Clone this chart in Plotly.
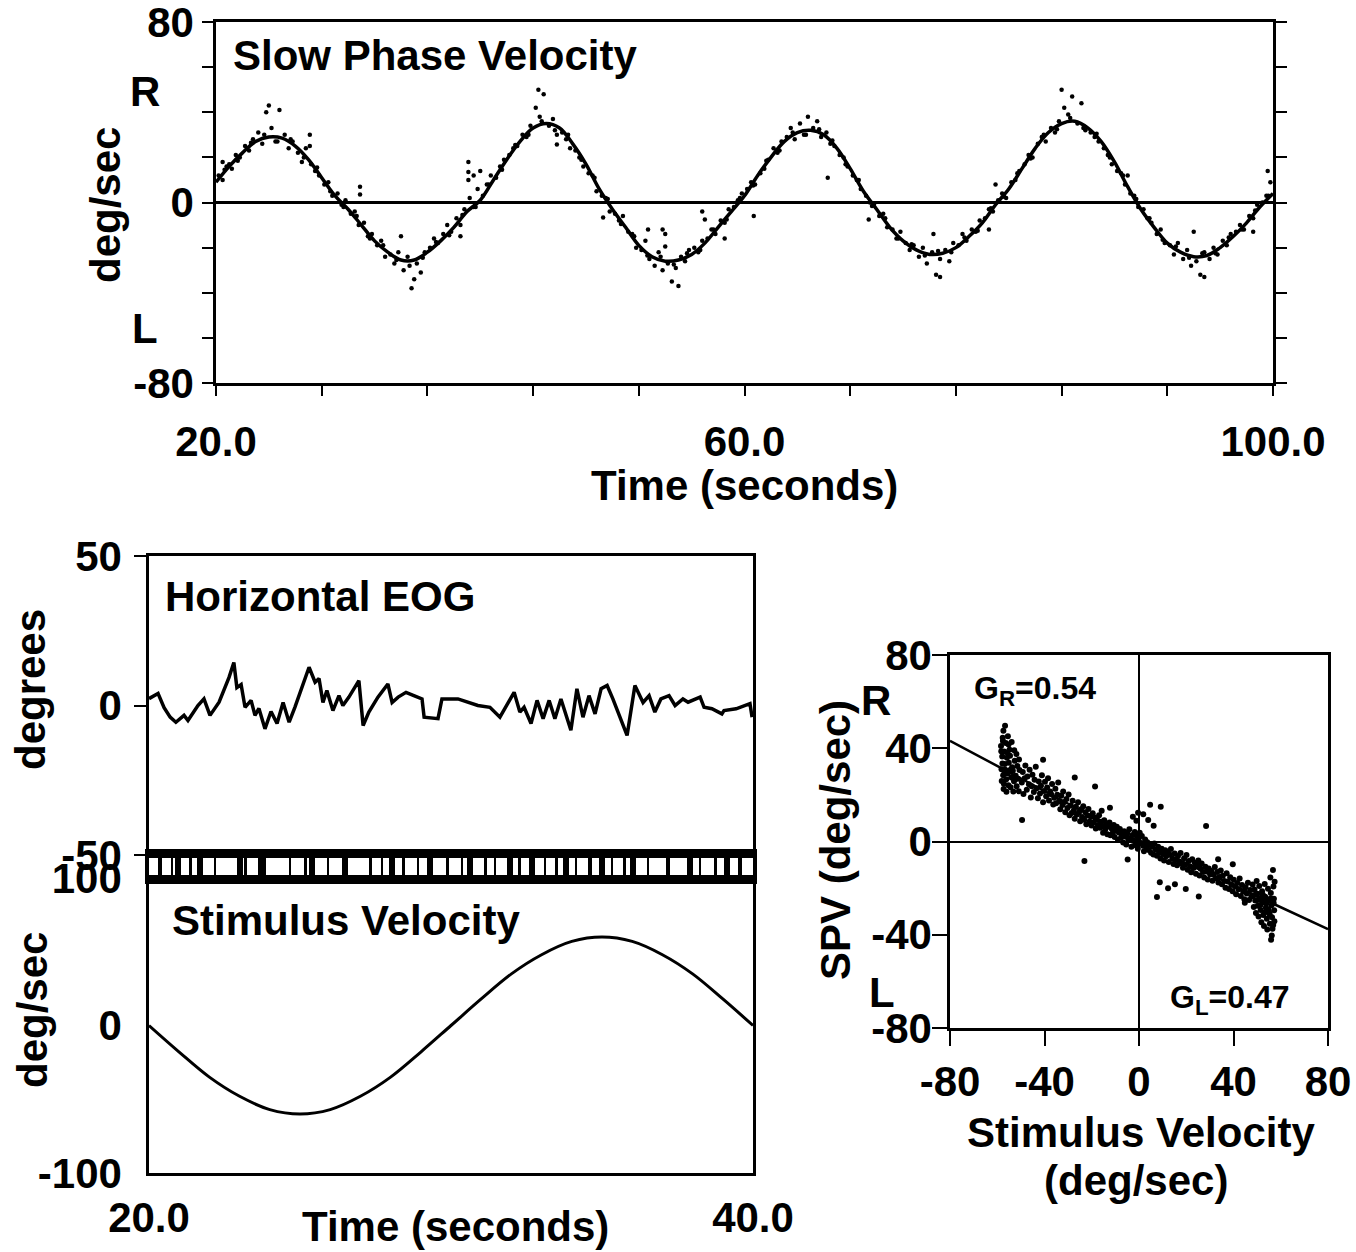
import plotly.graph_objects as go

# ---------------- data ----------------
spv_fit_t = list(range(20, 101))
spv_fit_v = [9, 16, 22, 27, 29, 28.5, 25, 19, 11, 3,
             -3, -10, -17, -22, -25.5, -25.5, -22, -17, -11, -4,
             1, 10, 19, 27, 33, 35, 33, 26, 17, 6,
             -3, -11, -19, -24, -26, -25.5, -23, -18, -11, -4,
             3, 12, 20, 27, 31, 32, 30, 24, 15, 5,
             -3, -11, -17, -21, -23, -22.5, -20, -15, -9, -1,
             6, 15, 24, 31, 35, 36, 33, 27, 18, 7,
             -3, -11, -18, -22, -24, -23.5, -20, -15, -9, -2,
             4]

spv_dots = [
    (20.2, 12), (20.5, 10), (20.8, 16), (21.2, 15), (21.5, 21), (21.8, 20),
    (22.2, 25), (22.5, 23), (22.8, 28), (23.2, 31), (23.5, 26), (23.8, 40),
    (24.2, 33), (24.5, 27), (24.8, 41), (25.2, 30), (25.5, 24), (25.8, 27),
    (26.2, 22), (26.5, 18), (26.8, 24), (27.2, 17), (27.5, 14), (27.8, 12),
    (28.2, 8), (28.5, 9), (28.8, 3), (29.2, 4), (29.5, -1), (29.8, 1),
    (30.2, -5), (30.5, -4), (30.8, -10), (31.2, -9), (31.5, -15), (31.8, -14),
    (32.2, -19), (32.5, -17), (32.8, -24), (33.2, -23), (33.5, -27), (33.8, -22),
    (34.2, -30), (34.5, -24), (34.8, -38), (35.2, -27), (35.5, -31), (35.8, -22),
    (36.2, -20), (36.5, -16), (36.8, -18), (37.2, -14), (37.5, -10), (37.8, -13),
    (38.2, -7), (38.5, -10), (38.8, -3), (39.2, 2), (39.5, -2), (39.8, 6),
    (40.2, 3), (40.5, 8), (40.8, 12), (41.2, 11), (41.5, 16), (41.8, 19),
    (42.2, 21), (42.5, 24), (42.8, 25), (43.2, 30), (43.5, 29), (43.8, 34),
    (44.2, 42), (44.5, 38), (44.8, 48), (45.2, 34), (45.5, 37), (45.8, 30),
    (46.2, 31), (46.5, 28), (46.8, 24), (47.2, 23), (47.5, 20), (47.8, 16),
    (48.2, 13), (48.5, 12), (48.8, 5), (49.2, 3), (49.5, 2), (49.8, -4),
    (50.2, -5), (50.5, -8), (50.8, -6), (51.2, -13), (51.5, -14), (51.8, -20),
    (52.2, -21), (52.5, -17), (52.8, -25), (53.2, -28), (53.5, -22), (53.8, -30),
    (54.2, -27), (54.5, -35), (54.8, -29), (55.2, -24), (55.5, -26), (55.8, -21),
    (56.2, -20), (56.5, -22), (56.8, -17), (57.2, -16), (57.5, -12), (57.8, -14),
    (58.2, -8), (58.5, -9), (58.8, -3), (59.2, -2), (59.5, 1), (59.8, 4),
    (60.2, 6), (60.5, 9), (60.8, 8), (61.2, 13), (61.5, 15), (61.8, 19),
    (62.2, 24), (62.5, 22), (62.8, 27), (63.2, 29), (63.5, 33), (63.8, 28),
    (64.2, 35), (64.5, 30), (64.8, 38), (65.2, 33), (65.5, 36), (65.8, 29),
    (66.2, 31), (66.5, 26), (66.8, 25), (67.2, 21), (67.5, 20), (67.8, 16),
    (68.2, 12), (68.5, 10), (68.8, 6), (69.2, 3), (69.5, 0), (69.8, -1),
    (70.2, -6), (70.5, -5), (70.8, -11), (71.2, -12), (71.5, -16), (71.8, -13),
    (72.2, -18), (72.5, -21), (72.8, -19), (73.2, -24), (73.5, -20), (73.8, -27),
    (74.2, -22), (74.5, -32), (74.8, -25), (75.2, -21), (75.5, -26), (75.8, -18),
    (76.2, -19), (76.5, -14), (76.8, -17), (77.2, -12), (77.5, -13), (77.8, -8),
    (78.2, -7), (78.5, -3), (78.8, -4), (79.2, 1), (79.5, 4), (79.8, 2),
    (80.2, 9), (80.5, 10), (80.8, 14), (81.2, 17), (81.5, 21), (81.8, 20),
    (82.2, 26), (82.5, 29), (82.8, 27), (83.2, 33), (83.5, 31), (83.8, 36),
    (84.2, 42), (84.5, 39), (84.8, 47), (85.2, 35), (85.5, 44), (85.8, 32),
    (86.2, 31), (86.5, 29), (86.8, 27), (87.2, 24), (87.5, 21), (87.8, 17),
    (88.2, 14), (88.5, 13), (88.8, 8), (89.2, 4), (89.5, 3), (89.8, -2),
    (90.2, -3), (90.5, -7), (90.8, -9), (91.2, -14), (91.5, -12), (91.8, -18),
    (92.2, -19), (92.5, -23), (92.8, -18), (93.2, -25), (93.5, -21), (93.8, -28),
    (94.2, -26), (94.5, -32), (94.8, -22), (95.2, -25), (95.5, -20), (95.8, -23),
    (96.2, -17), (96.5, -19), (96.8, -14), (97.2, -13), (97.5, -10), (97.8, -12),
    (98.2, -6), (98.5, -7), (98.8, -1), (99.2, 0), (99.5, 3), (99.8, 9),
    # scattered outliers
    (20.5, 18), (21.0, 17), (27.1, 30), (27.1, 25), (30.9, 7), (30.9, 3.5),
    (39.1, 18), (39.1, 13.5), (39.1, 10), (39.5, 12), (40.0, 14), (45.8, 25.7),
    (49.3, -6.6), (52.7, -12), (53.8, -12), (54.0, -19.5), (55.0, -37),
    (56.8, -4), (57.0, -7.5), (60.7, -6), (66.3, 11), (69.4, -7.5),
    (34.0, -15), (54.0, -14), (74.3, -14), (94.0, -13), (38.5, -15),
    (58.5, -16), (78.5, -12), (98.5, -13), (99.6, 14), (84.0, 50), (44.4, 50),
    (24.0, 43), (35.0, -34), (74.8, -33), (94.8, -33), (89.0, 12), (79.0, 8),
]

spv_dots_near = [
    (20.65, 14.5), (21.65, 18.5), (22.65, 26.5), (23.65, 30), (24.65, 27),
    (25.65, 28), (26.65, 20), (27.65, 15.5), (28.65, 5), (29.65, -2),
    (30.65, -6), (31.65, -16), (32.65, -19), (33.65, -25.5), (34.65, -28),
    (35.65, -24.5), (36.65, -17.5), (37.65, -14.5), (38.65, -5.5), (39.65, -2),
    (40.65, 8), (41.65, 14.5), (42.65, 25.5), (43.65, 30), (44.65, 36),
    (45.65, 32), (46.65, 30), (47.65, 19), (48.65, 11), (49.65, 1.5),
    (50.65, -9.5), (51.65, -15), (52.65, -23.5), (53.65, -24), (54.65, -27.5),
    (55.65, -22.5), (56.65, -21), (57.65, -12), (58.65, -7.5), (59.65, 2),
    (60.65, 7.5), (61.65, 18.5), (62.65, 23), (63.65, 31), (64.65, 30),
    (65.65, 32.5), (66.65, 27.5), (67.65, 17), (68.65, 10), (69.65, -1.5),
    (70.65, -7), (71.65, -16), (72.65, -18.5), (73.65, -23.5), (74.65, -21.5),
    (75.65, -22), (76.65, -15.5), (77.65, -12.5), (78.65, -2.5), (79.65, 2.5),
    (80.65, 13), (81.65, 19.5), (82.65, 30), (83.65, 32.5), (84.65, 37.5),
    (85.65, 33), (86.65, 30.5), (87.65, 20), (88.65, 12), (89.65, 1.5),
    (90.65, -7), (91.65, -16.5), (92.65, -19.5), (93.65, -24.5), (94.65, -22.5),
    (95.65, -22.5), (96.65, -15.5), (97.65, -12), (98.65, -3.5), (99.65, 3),
]

eog_t = [20.0, 20.30, 20.50, 20.70, 20.89, 21.16, 21.29, 21.62, 21.82, 22.02,
         22.32, 22.65, 22.81, 22.91, 23.05, 23.18, 23.38, 23.51, 23.64, 23.84,
         24.04, 24.24, 24.44, 24.64, 24.83, 25.30, 25.50, 25.63, 25.76, 25.89,
         26.09, 26.29, 26.42, 26.62, 26.95, 27.09, 27.28, 27.58, 27.91, 28.05,
         28.25, 28.51, 28.77, 29.04, 29.11, 29.57, 29.70, 30.23, 30.89, 31.29,
         31.62, 31.75, 32.09, 32.28, 32.42, 32.65, 32.85, 33.05, 33.25, 33.44,
         33.64, 33.97, 34.17, 34.37, 34.57, 34.77, 34.97, 35.17, 35.36, 35.83,
         36.09, 36.36, 36.56, 36.75, 36.95, 37.22, 37.42, 37.68, 37.85, 38.25,
         38.38, 38.64, 38.97, 39.04, 39.44, 39.90, 39.97]
eog_v = [2.3, 4, -0.7, -3.9, -5.6, -3.3, -5, 0, 2.2, -3.3,
         1.1, 9.4, 14.4, 6, 7, -0.6, 1.7, -3.3, -1, -7.8,
         -2, -6, 1, -5.6, -0.6, 12.8, 7.8, 9, 1, 5,
         -1.7, 3.3, 0, 2.8, 8.3, -6.7, -2.2, 2.8, 7.2, 1,
         2.8, 4.4, 3.3, 2.2, -3.9, -4.4, 2.2, 2.2, 0, -0.6,
         -3.9, -1.7, 4.4, -2.2, -0.6, -6, 1.7, -4.4, 1.7, -4.4,
         2.2, -8.3, 5.6, -3.9, 3.3, -2.8, 5.6, 6.7, 2.2, -10,
         6.7, 1, 3.3, -2.2, 2.2, 3.3, 0, 2.2, 1.1, 2.8,
         -0.6, -1.1, -2.8, -1.7, -1.1, 0.6, -3.9]

stim_t = list(range(20, 41))
stim_v = [0, -18, -35, -48, -57, -60, -57, -48, -35, -18,
          0, 18, 35, 48, 57, 60, 57, 48, 35, 18, 0]

mark_t = [20.36, 20.76, 20.96, 21.36, 21.69, 22.19, 23.01, 23.21, 23.74, 24.67,
          25.17, 25.40, 25.93, 26.49, 27.32, 27.72, 28.05, 28.44, 28.91, 29.30,
          29.87, 30.36, 30.63, 31.13, 31.46, 31.95, 32.28, 32.68, 33.11, 33.48,
          33.81, 34.14, 34.60, 35.00, 35.33, 35.76, 36.03, 36.52, 37.19, 37.91,
          38.25, 38.77, 39.14, 39.57]
mark_w = [0.12, 0.08, 0.18, 0.10, 0.22, 0.08, 0.20, 0.10, 0.25, 0.08,
          0.10, 0.20, 0.08, 0.22, 0.10, 0.08, 0.18, 0.10, 0.08, 0.22,
          0.10, 0.08, 0.20, 0.10, 0.08, 0.18, 0.10, 0.22, 0.08, 0.10,
          0.20, 0.08, 0.12, 0.22, 0.08, 0.10, 0.20, 0.08, 0.12, 0.22,
          0.08, 0.10, 0.18, 0.12]

scatter_pts = [
    # dense band at the left end of the stimulus range
    (-58.2, 31), (-57.9, 36.5), (-58.4, 41), (-57.7, 44.5), (-58.1, 26), (-57.3, 22.5),
    (-57.5, 28.4), (-56.8, 33.2), (-57.1, 38.6), (-57.4, 47.5), (-56.2, 26.7), (-56.6, 30.8),
    (-55.9, 35.9), (-56.4, 42.3), (-56.7, 49.6), (-55.3, 24.1), (-55.7, 29.3), (-55.1, 33.8),
    (-54.8, 39.4), (-55.5, 45.2), (-54.4, 23.3), (-54.1, 27.6), (-53.7, 31.9), (-54.6, 36.8),
    (-53.9, 42.7), (-53.2, 21.4), (-52.9, 25.8), (-53.4, 30.3), (-52.6, 34.6), (-52.8, 39.1),
    (-51.8, 23.7), (-52.2, 28.2), (-51.5, 32.4), (-51.9, 37.5), (-50.9, 21.6), (-51.2, 26.9),
    (-50.6, 30.7), (-50.8, 35.2), (-57.8, 33.5), (-56.9, 29.9), (-55.8, 38.2), (-54.3, 30.9),
    (-53.5, 27.2), (-57.2, 24.8), (-56.1, 21.3), (-55.2, 41.6), (-58.3, 38.7), (-57.6, 43.1),
    # -50 .. -30
    (-49.6, 25.3), (-49.2, 29.8), (-48.9, 20.4), (-48.4, 27.1), (-48.1, 32.6), (-47.5, 22.2),
    (-47.2, 27.9), (-46.6, 24.6), (-46.3, 30.8), (-45.8, 18.9), (-45.4, 23.7), (-45.1, 28.6),
    (-44.5, 21.2), (-44.2, 26.5), (-43.7, 32.1), (-43.3, 22.8), (-42.8, 18.5), (-42.4, 25.7),
    (-41.9, 20.6), (-41.5, 23.9), (-41.1, 28.4), (-40.6, 16.8), (-40.2, 21.7), (-39.8, 25.6),
    (-39.3, 19.4), (-38.9, 23.2), (-38.5, 27.1), (-38.1, 17.6), (-37.6, 21.5), (-37.2, 20.3),
    (-36.8, 24.7), (-36.3, 15.9), (-35.9, 18.8), (-35.4, 22.6), (-35.1, 16.4), (-34.6, 20.1),
    (-34.2, 25.3), (-33.8, 17.3), (-33.3, 13.8), (-32.9, 19.6), (-32.4, 15.7), (-32.1, 21.4),
    (-31.6, 16.9), (-31.2, 12.6), (-30.7, 18.2), (-30.3, 14.4), (-29.8, 20.2), (-29.4, 11.3),
    # -30 .. 0
    (-28.9, 15.4), (-28.5, 12.2), (-28.1, 17.5), (-27.6, 13.3), (-27.2, 9.8), (-26.7, 14.9),
    (-26.3, 11.6), (-25.8, 16.8), (-25.4, 12.4), (-24.9, 8.7), (-24.5, 13.8), (-24.1, 10.5),
    (-23.6, 15.1), (-23.2, 9.3), (-22.7, 12.6), (-22.3, 7.4), (-21.8, 11.2), (-21.4, 13.9),
    (-20.9, 8.6), (-20.5, 10.8), (-20.1, 6.9), (-19.6, 12.1), (-19.2, 8.2), (-18.7, 10.3),
    (-18.3, 5.6), (-17.8, 9.4), (-17.4, 7.1), (-16.9, 11.3), (-16.5, 5.9), (-16.1, 8.5),
    (-15.6, 6.7), (-15.2, 3.8), (-14.7, 9.1), (-14.3, 5.2), (-13.8, 7.3), (-13.4, 3.1),
    (-12.9, 6.4), (-12.5, 8.2), (-12.1, 2.7), (-11.6, 5.6), (-11.2, 3.5), (-10.7, 7.1),
    (-10.3, 1.9), (-9.8, 4.6), (-9.4, 6.3), (-8.9, 0.8), (-8.5, 3.9), (-8.1, 5.4),
    (-7.6, 1.7), (-7.2, 3.2), (-6.7, -0.4), (-6.3, 4.4), (-5.8, 2.1), (-5.4, -1.3),
    (-4.9, 3.6), (-4.5, 0.7), (-4.1, 5.3), (-3.6, 1.4), (-3.2, -2.2), (-2.7, 2.8),
    (-2.3, 0.2), (-1.8, 4.1), (-1.4, -1.6), (-0.9, 2.3), (-0.5, -3.1), (-0.2, 0.9),
    (0.3, 3.7), (-1.1, 8.9), (-2.6, 10.6), (-0.4, 12.3), (1.8, 11.7), (3.9, 9.2),
    (6.2, 6.8), (-4.8, -7.7), (-12.3, 14.5), (-15.8, 13.2),
    # 0 .. 30
    (0.8, -0.6), (1.2, 2.4), (1.7, -1.8), (2.1, -4.2), (2.6, 0.9), (3.1, -2.7),
    (3.5, -0.3), (4.1, -3.6), (4.6, -1.2), (5.1, -4.8), (5.6, -2.3), (6.1, -5.6),
    (6.5, -0.9), (7.1, -3.4), (7.6, -6.1), (8.1, -2.2), (8.5, -4.7), (9.1, -7.3),
    (9.6, -3.1), (10.1, -5.4), (10.6, -8.2), (11.1, -3.8), (11.5, -6.3), (12.1, -4.5),
    (12.6, -8.8), (13.1, -5.7), (13.5, -3.2), (14.1, -7.4), (14.6, -9.6), (15.1, -5.1),
    (15.6, -7.9), (16.1, -10.2), (16.5, -6.2), (17.1, -8.6), (17.6, -4.9), (18.1, -9.4),
    (18.6, -11.3), (19.1, -7.2), (19.5, -9.9), (20.1, -5.8), (20.6, -12.1), (21.1, -8.4),
    (21.6, -10.7), (22.1, -13.2), (22.5, -7.6), (23.1, -11.4), (23.6, -9.1), (24.1, -13.8),
    (24.6, -10.3), (25.1, -8.2), (25.6, -14.6), (26.1, -11.7), (26.5, -9.4), (27.1, -13.1),
    (27.6, -15.4), (28.1, -10.8), (28.6, -12.9), (29.1, -16.3), (29.5, -11.6), (30.1, -14.2),
    # outliers
    (7.6, -23.8), (12.3, -20.1), (8.8, -17.5), (15.2, -18.3), (19.8, -20.4), (25.3, -23.6),
    (28.4, 6.7), (4.7, 15.8), (9.2, 14.9), (-23.1, -8.4), (-49.5, 9.2), (-40.6, 35.1),
    (-27.2, 27.4), (-18.6, 23.6), (33.5, -7.6), (39.7, -9.8), (44.8, -26.3), (55.9, -42.1),
    # 30 .. 48
    (30.6, -12.7), (31.1, -16.8), (31.6, -14.3), (32.1, -10.9), (32.6, -15.8), (33.1, -13.1),
    (33.6, -17.6), (34.1, -15.2), (34.6, -12.4), (35.1, -18.3), (35.5, -14.7), (36.1, -16.9),
    (36.6, -19.8), (37.1, -13.6), (37.6, -17.2), (38.1, -20.4), (38.6, -15.3), (39.1, -18.6),
    (39.6, -21.3), (40.1, -16.4), (40.6, -19.2), (41.1, -22.6), (41.6, -17.8), (42.1, -20.5),
    (42.6, -15.9), (43.1, -23.4), (43.6, -18.7), (44.1, -21.4), (44.6, -24.8), (45.1, -19.6),
    (45.6, -22.3), (46.1, -17.7), (46.6, -25.1), (47.1, -20.8), (47.6, -23.6),
    # dense band at the right end
    (48.1, -18.4), (48.3, -23.2), (48.6, -28.1), (48.9, -20.6), (49.2, -25.3), (49.5, -30.7),
    (49.8, -16.9), (50.1, -22.4), (50.3, -27.6), (50.6, -32.2), (50.9, -19.1), (51.2, -24.3),
    (51.5, -29.4), (51.8, -34.6), (52.1, -21.3), (52.3, -26.2), (52.6, -31.5), (52.9, -36.3),
    (53.2, -18.2), (53.4, -23.7), (53.7, -28.4), (54.1, -33.1), (54.3, -37.8), (54.6, -20.3),
    (54.9, -25.2), (55.1, -30.4), (55.4, -35.3), (55.6, -15.4), (55.8, -22.1), (56.1, -27.3),
    (56.3, -32.5), (56.5, -37.4), (56.7, -12.2), (56.9, -19.3), (57.1, -24.6), (57.2, -29.5),
    (57.3, -34.2), (56.2, -40.3), (57.4, -17.3), (57.0, -26.4), (55.3, -31.2), (53.9, -26.6),
    (52.4, -22.8), (51.4, -27.2), (50.2, -25.1), (49.4, -22.7), (54.7, -29.1), (56.8, -35.8),
    (53.1, -30.6), (55.7, -24.4),
]

fit_x = [-80, 0, 80]
fit_y = [43.2, 0, -37.6]

# ---------------- figure ----------------
W, H = 1356, 1252
F = "Liberation Sans"
FS = 42


def px(x):
    return x / W


def py(y):
    return 1 - y / H


all_dots = spv_dots + spv_dots_near

fig = go.Figure()

fig.add_trace(go.Scatter(x=[d[0] for d in all_dots], y=[d[1] for d in all_dots],
                         mode="markers", marker=dict(size=4.5, color="black"),
                         xaxis="x", yaxis="y", showlegend=False))
fig.add_trace(go.Scatter(x=spv_fit_t, y=spv_fit_v, mode="lines",
                         line=dict(color="black", width=3.5, shape="spline"),
                         xaxis="x", yaxis="y", showlegend=False))

fig.add_trace(go.Scatter(x=eog_t, y=eog_v, mode="lines",
                         line=dict(color="black", width=3.5),
                         xaxis="x2", yaxis="y2", showlegend=False))

fig.add_trace(go.Bar(x=mark_t, y=[1] * len(mark_t), width=mark_w, base=0,
                     marker=dict(color="black", line=dict(width=0)),
                     xaxis="x3", yaxis="y3", showlegend=False))

fig.add_trace(go.Scatter(x=stim_t, y=stim_v, mode="lines",
                         line=dict(color="black", width=3, shape="spline"),
                         xaxis="x4", yaxis="y4", showlegend=False))

fig.add_trace(go.Scatter(x=[p[0] for p in scatter_pts], y=[p[1] for p in scatter_pts],
                         mode="markers", marker=dict(size=6, color="black"),
                         xaxis="x5", yaxis="y5", showlegend=False))
fig.add_trace(go.Scatter(x=fit_x, y=fit_y, mode="lines",
                         line=dict(color="black", width=2.5),
                         xaxis="x5", yaxis="y5", showlegend=False))

tickfont = dict(family=F, size=FS, color="black", weight="bold")
base_axis = dict(showgrid=False, linecolor="black", linewidth=2.5, tickcolor="black",
                 tickwidth=2, tickfont=tickfont, fixedrange=True, automargin=False,
                 ticklabeloverflow="allow")

left_dom = [px(149), px(753)]

fig.update_layout(
    template="none",
    width=W, height=H, margin=dict(l=0, r=0, t=0, b=0, pad=0),
    paper_bgcolor="white", plot_bgcolor="white",
    font=dict(family=F, color="black", weight="bold"),
    bargap=0, showlegend=False,
    xaxis=dict(base_axis, domain=[px(216), px(1273)], range=[20, 100], anchor="y",
               showline=True, mirror=True, ticks="outside", ticklen=10,
               tickvals=list(range(20, 101, 8)),
               ticktext=["20.0", "", "", "", "", "60.0", "", "", "", "", "100.0"],
               ticklabelstandoff=10, zeroline=False),
    yaxis=dict(base_axis, domain=[py(383), py(22)], range=[-80, 80], anchor="x",
               showline=True, mirror="ticks", ticks="outside", ticklen=11,
               tickvals=list(range(-80, 81, 20)),
               ticktext=["-80", "", "", "", "0", "", "", "", "80"],
               zeroline=True, zerolinecolor="black", zerolinewidth=3),
    xaxis2=dict(base_axis, domain=left_dom, range=[20, 40], anchor="y2",
                showline=True, mirror=True, ticks="", showticklabels=False, zeroline=False),
    yaxis2=dict(base_axis, domain=[py(855), py(556)], range=[-50, 50], anchor="x2",
                showline=True, mirror=True, ticks="outside", ticklen=12,
                tickvals=[-50, 0, 50], ticktext=["-50", "0", "50"], zeroline=False,
                ticklabelstandoff=4),
    xaxis3=dict(base_axis, domain=left_dom, range=[20, 40], anchor="y3",
                showline=True, mirror=True, linewidth=6, ticks="", showticklabels=False,
                zeroline=False),
    yaxis3=dict(base_axis, domain=[py(878), py(855)], range=[0, 1], anchor="x3",
                showline=True, mirror=True, linewidth=4, ticks="", showticklabels=False,
                zeroline=False),
    xaxis4=dict(base_axis, domain=left_dom, range=[20, 40], anchor="y4",
                showline=True, mirror=True, ticks="",
                tickvals=[20, 40], ticktext=["20.0", "40.0"],
                ticklabelstandoff=6, zeroline=False),
    yaxis4=dict(base_axis, domain=[py(1173), py(878)], range=[-100, 100], anchor="x4",
                showline=True, mirror=True, ticks="",
                tickvals=[-100, 0, 100], ticktext=["-100", "0", "100"],
                ticklabelstandoff=16, zeroline=False),
    xaxis5=dict(base_axis, domain=[px(950), px(1328)], range=[-80, 80], anchor="y5",
                showline=True, mirror=True, ticks="outside", ticklen=15,
                tickvals=[-80, -40, 0, 40, 80], ticktext=["-80", "-40", "0", "40", "80"],
                ticklabelstandoff=0,
                zeroline=True, zerolinecolor="black", zerolinewidth=2),
    yaxis5=dict(base_axis, domain=[py(1028), py(655)], range=[-80, 80], anchor="x5",
                showline=True, mirror=True, ticks="outside", ticklen=15,
                tickvals=[-80, -40, 0, 40, 80], ticktext=["-80", "-40", "0", "40", "80"],
                ticklabelstandoff=-8,
                zeroline=True, zerolinecolor="black", zerolinewidth=2),
)


def ann(text, x, y, size=FS, xanchor="center", angle=0):
    return dict(text=text, x=px(x), y=py(y), xref="paper", yref="paper", showarrow=False,
                xanchor=xanchor, yanchor="middle", textangle=angle,
                font=dict(family=F, size=size, color="black", weight="bold"))


annotations = [
    ann("Slow Phase Velocity", 231, 55, xanchor="left"),
    ann("R", 145, 92),
    ann("L", 145, 328),
    ann("deg/sec", 105, 205, angle=-90),
    ann("Time (seconds)", 745, 485),
    ann("Horizontal EOG", 163, 597, xanchor="left"),
    ann("degrees", 30, 690, angle=-90),
    ann("Stimulus Velocity", 170, 920, xanchor="left"),
    ann("deg/sec", 32, 1010, angle=-90),
    ann("Time (seconds)", 455, 1226),
    ann("SPV (deg/sec)", 835, 840, angle=-90),
    ann("R", 876, 700),
    ann("L", 882, 992),
    ann("G<sub>R</sub>=0.54", 972, 690, size=32, xanchor="left"),
    ann("G<sub>L</sub>=0.47", 1168, 999, size=32, xanchor="left"),
    ann("Stimulus Velocity", 1141, 1132),
    ann("(deg/sec)", 1136, 1180),
]
fig.update_layout(annotations=annotations)

fig.write_html("out.html")
